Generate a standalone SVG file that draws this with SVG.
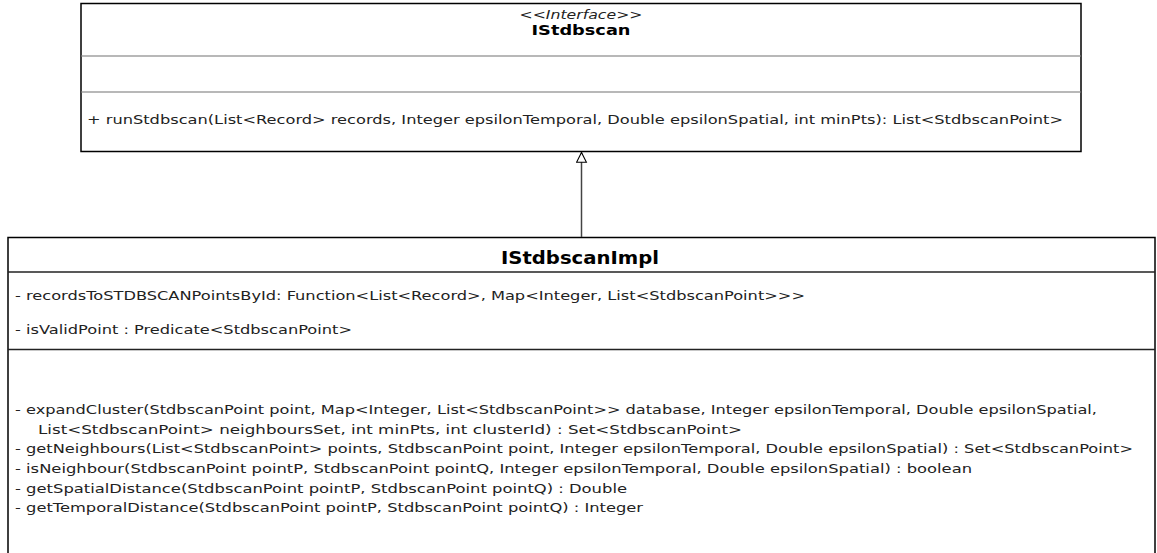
<svg xmlns="http://www.w3.org/2000/svg" width="1157" height="553" viewBox="0 0 1157 553">
<defs>
<style>
.box{fill:#fff;stroke:#000;stroke-width:1.5}
.div1{stroke:#a0a0a0;stroke-width:1.5}
.div2{stroke:#222;stroke-width:1.3}
.t{font-family:"DejaVu Sans",Verdana,sans-serif;font-size:13px;fill:#222}
.st{font-family:"DejaVu Sans",Verdana,sans-serif;font-size:13px;font-style:italic;fill:#222}
.b{font-family:"DejaVu Sans",Verdana,sans-serif;font-size:14px;font-weight:bold;fill:#000}
.b2{font-family:"DejaVu Sans",Verdana,sans-serif;font-size:17px;font-weight:bold;fill:#000}
.conn{stroke:#444;stroke-width:1.5;fill:none}
</style>
<marker id="tri" markerWidth="12" markerHeight="12" refX="10" refY="5" orient="auto" markerUnits="userSpaceOnUse" viewBox="0 0 11 10">
<path d="M1,0.5 L10,5 L1,9.5 Z" fill="#fff" stroke="#000" stroke-width="1"/>
</marker>
</defs>
<g id="IStdbscan">
<rect class="box" x="81" y="3.5" width="1000" height="148"/>
<line class="div1" x1="81.5" y1="56" x2="1080.5" y2="56"/>
<line class="div1" x1="81.5" y1="92" x2="1080.5" y2="92"/>
<text class="st" x="581" y="19" text-anchor="middle" textLength="123" lengthAdjust="spacingAndGlyphs">&lt;&lt;Interface&gt;&gt;</text>
<text class="b" x="581" y="35" text-anchor="middle" textLength="99" lengthAdjust="spacingAndGlyphs">IStdbscan</text>
<text class="t" x="87" y="124" textLength="976" lengthAdjust="spacingAndGlyphs">+ runStdbscan(List&lt;Record&gt; records, Integer epsilonTemporal, Double epsilonSpatial, int minPts): List&lt;StdbscanPoint&gt;</text>
</g>
<g id="IStdbscanImpl">
<rect class="box" x="8" y="237.5" width="1147" height="320"/>
<line class="div2" x1="8" y1="272" x2="1155" y2="272"/>
<line class="div2" x1="8" y1="349.5" x2="1155" y2="349.5"/>
<text class="b2" x="580" y="264" text-anchor="middle" textLength="158" lengthAdjust="spacingAndGlyphs">IStdbscanImpl</text>
<text class="t" x="15" y="300" textLength="790" lengthAdjust="spacingAndGlyphs">- recordsToSTDBSCANPointsById: Function&lt;List&lt;Record&gt;, Map&lt;Integer, List&lt;StdbscanPoint&gt;&gt;&gt;</text>
<text class="t" x="15" y="334" textLength="337" lengthAdjust="spacingAndGlyphs">- isValidPoint : Predicate&lt;StdbscanPoint&gt;</text>
<text class="t" x="15" y="414" textLength="1082" lengthAdjust="spacingAndGlyphs">- expandCluster(StdbscanPoint point, Map&lt;Integer, List&lt;StdbscanPoint&gt;&gt; database, Integer epsilonTemporal, Double epsilonSpatial,</text>
<text class="t" x="38" y="433.5" textLength="704" lengthAdjust="spacingAndGlyphs">List&lt;StdbscanPoint&gt; neighboursSet, int minPts, int clusterId) : Set&lt;StdbscanPoint&gt;</text>
<text class="t" x="15" y="453" textLength="1118" lengthAdjust="spacingAndGlyphs">- getNeighbours(List&lt;StdbscanPoint&gt; points, StdbscanPoint point, Integer epsilonTemporal, Double epsilonSpatial) : Set&lt;StdbscanPoint&gt;</text>
<text class="t" x="15" y="473" textLength="957" lengthAdjust="spacingAndGlyphs">- isNeighbour(StdbscanPoint pointP, StdbscanPoint pointQ, Integer epsilonTemporal, Double epsilonSpatial) : boolean</text>
<text class="t" x="15" y="492.5" textLength="612" lengthAdjust="spacingAndGlyphs">- getSpatialDistance(StdbscanPoint pointP, StdbscanPoint pointQ) : Double</text>
<text class="t" x="15" y="512" textLength="628" lengthAdjust="spacingAndGlyphs">- getTemporalDistance(StdbscanPoint pointP, StdbscanPoint pointQ) : Integer</text>
</g>
<g id="connectors">
<line class="conn" x1="581.5" y1="237" x2="581.5" y2="152.5" marker-end="url(#tri)"/>
</g>
</svg>
